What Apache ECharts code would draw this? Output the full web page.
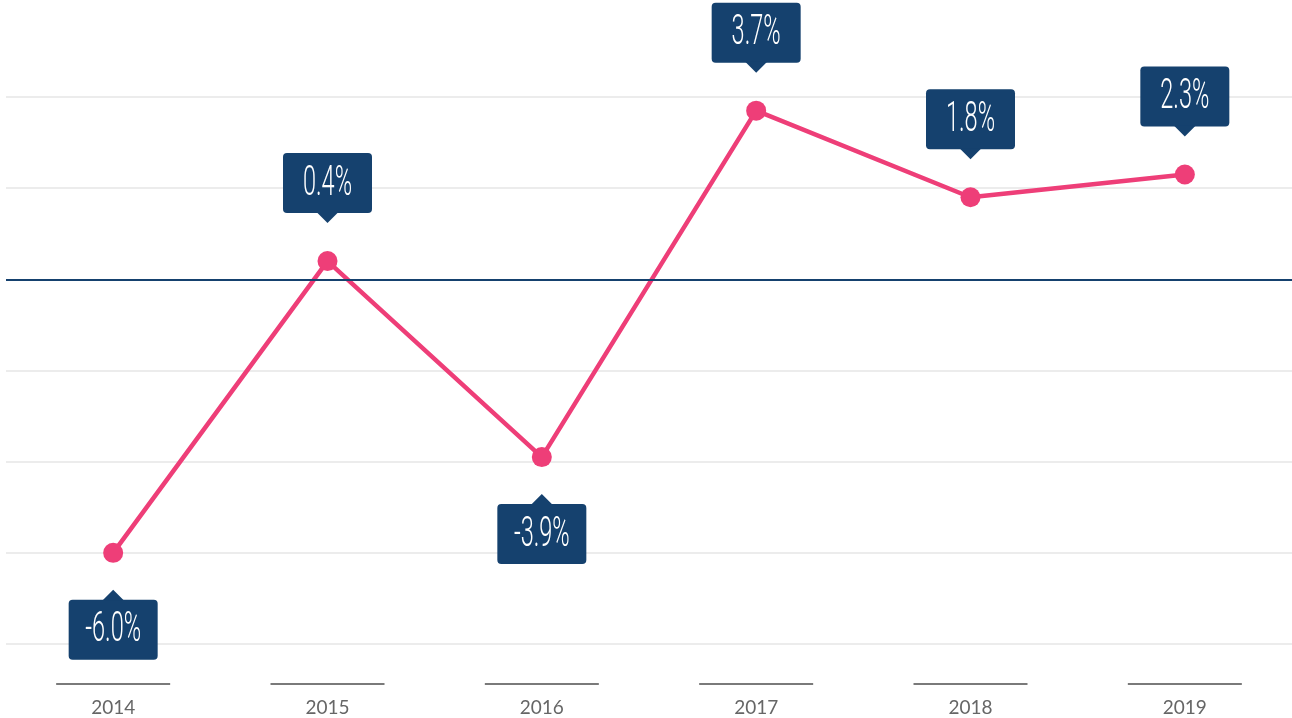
<!DOCTYPE html>
<html lang="en" style="height: 100%">
<head>
  <meta charset="utf-8">
</head>
<body style="height: 100%; margin: 0; background: #fff">
<div id="container" style="height: 100%"></div>
<script type="text/javascript" src="https://cdn.jsdelivr.net/npm/echarts@6/dist/echarts.min.js"></script>
<script type="text/javascript">
  // 数据
  var years = ['2014', '2015', '2016', '2017', '2018', '2019'];
  var growth = [-6.0, 0.4, -3.9, 3.7, 1.8, 2.3];
  var yTicks = [-8, -6, -4, -2, 0, 2, 4];

  var navy = '#15416e';
  var pink = '#ee3e78';

  var dom = document.getElementById('container');
  var myChart = echarts.init(dom, null, { renderer: 'canvas' });

  // 气泡标签：正值在上，负值在下
  function renderCallout(params, api) {
    var val = api.value(1);
    var p = api.coord([api.value(0), val]);
    var below = val < 0;
    var w = 89, h = 60, tri = 11;
    var boxTop, tipY, baseY;
    if (below) {
      tipY = p[1] + 37;
      baseY = tipY + tri;
      boxTop = baseY - 1;
    } else {
      tipY = p[1] - 38;
      baseY = tipY - tri;
      boxTop = baseY - h + 1;
    }
    return {
      type: 'group',
      children: [
        {
          type: 'rect',
          shape: { x: p[0] - w / 2, y: boxTop, width: w, height: h, r: 4 },
          style: { fill: navy }
        },
        {
          type: 'polygon',
          shape: { points: [[p[0] - tri, baseY], [p[0], tipY], [p[0] + tri, baseY]] },
          style: { fill: navy }
        },
        {
          type: 'text',
          x: p[0],
          y: boxTop + h / 2 + 1,
          scaleX: 0.56,
          style: {
            text: val.toFixed(1) + '%',
            fill: '#fff',
            font: '300 42px Roboto, "Liberation Sans Narrow", "DejaVu Sans Condensed", sans-serif',
            align: 'center',
            verticalAlign: 'middle'
          }
        }
      ]
    };
  }

  var option = {
    animation: false,
    grid: { left: 6, right: 0, top: 97, bottom: 74 },
    xAxis: {
      type: 'category',
      data: years,
      boundaryGap: true,
      axisLine: { show: false },
      axisTick: { show: false },
      axisLabel: {
        margin: 39,
        formatter: function (v) { return '{line|}\n{year|' + v + '}'; },
        rich: {
          line: { width: 114, height: 2, backgroundColor: '#7a7a7a' },
          year: {
            fontFamily: 'Lato, "Open Sans", sans-serif',
            fontSize: 19,
            color: '#666',
            lineHeight: 20,
            padding: [26, 0, 0, 0]
          }
        }
      }
    },
    yAxis: {
      type: 'value',
      min: yTicks[0],
      max: yTicks[yTicks.length - 1],
      interval: 2,
      axisLabel: { show: false },
      axisLine: { show: false },
      axisTick: { show: false },
      splitLine: { lineStyle: { color: '#ececec', width: 2 } }
    },
    series: [
      {
        type: 'line',
        data: growth,
        symbol: 'circle',
        symbolSize: 20,
        itemStyle: { color: pink },
        lineStyle: { color: pink, width: 4.5 },
        markLine: {
          silent: true,
          symbol: 'none',
          label: { show: false },
          lineStyle: { color: navy, width: 2, type: 'solid' },
          data: [{ yAxis: 0 }]
        },
        z: 3
      },
      {
        type: 'custom',
        renderItem: renderCallout,
        data: years.map(function (y, i) { return [i, growth[i]]; }),
        z: 4
      }
    ]
  };

  myChart.setOption(option);
  window.addEventListener('resize', myChart.resize);
</script>
</body>
</html>
